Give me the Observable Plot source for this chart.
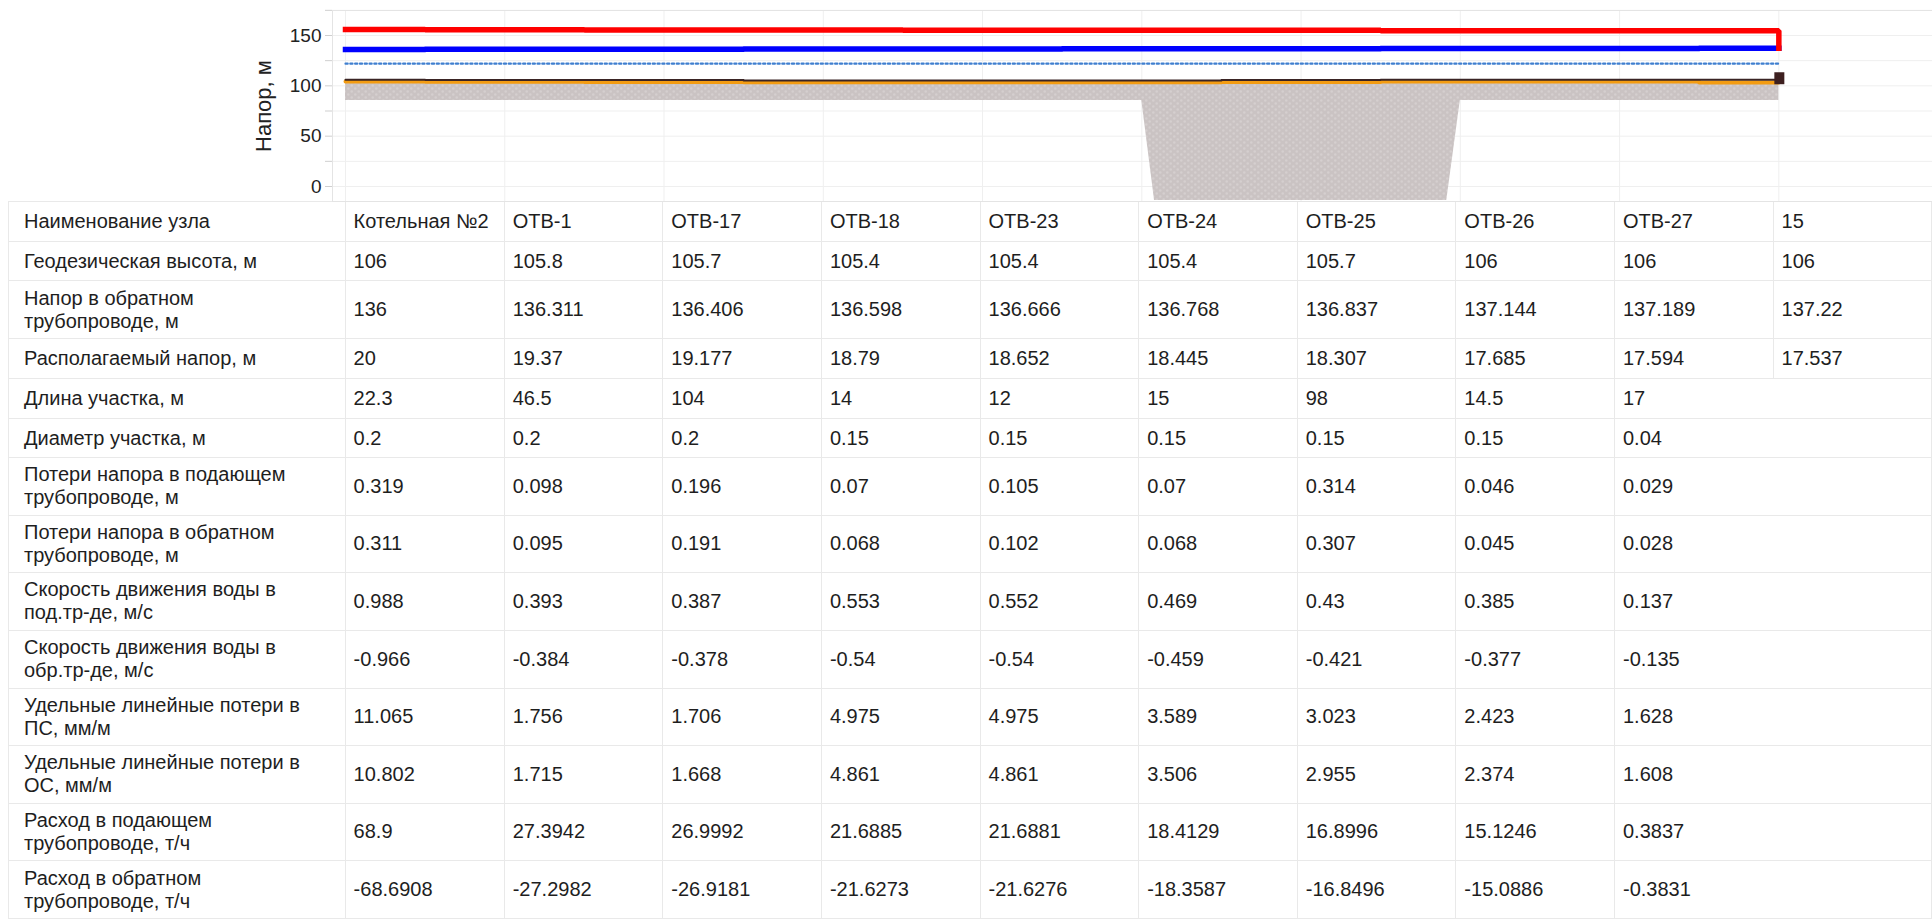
<!DOCTYPE html>
<html>
<head>
<meta charset="utf-8">
<script src="https://cdn.jsdelivr.net/npm/d3@7"></script>
<script src="https://cdn.jsdelivr.net/npm/@observablehq/plot@0.6"></script>
<style>
  html, body { margin: 0; padding: 0; background: #fff; overflow: hidden; }
  body { width: 1932px; height: 919px; font-family: Arial, "Liberation Sans", sans-serif; color: #1e1e1e; }
  #chart svg { display: block; }
  table { border-collapse: collapse; table-layout: fixed; margin-left: 8px; font-size: 20px; }
  td { border: 1px solid #e9e9e9; padding: 0 0 0 8px; vertical-align: middle; white-space: nowrap; overflow: hidden; line-height: 23px; }
  td.lab { padding-left: 15px; }
  td.nb { border-left: hidden; }
</style>
</head>
<body>
<div id="chart"></div>
<div id="table"></div>
<script>
// ---- data ----
const nodes = ["Котельная №2", "ОТВ-1", "ОТВ-17", "ОТВ-18", "ОТВ-23", "ОТВ-24", "ОТВ-25", "ОТВ-26", "ОТВ-27", "15"];
const geodesic = [106, 105.8, 105.7, 105.4, 105.4, 105.4, 105.7, 106, 106, 106];
const returnHead = [136, 136.311, 136.406, 136.598, 136.666, 136.768, 136.837, 137.144, 137.189, 137.22];
const availableHead = [20, 19.37, 19.177, 18.79, 18.652, 18.445, 18.307, 17.685, 17.594, 17.537];
const sectionLength = [22.3, 46.5, 104, 14, 12, 15, 98, 14.5, 17];
const sectionDiameter = [0.2, 0.2, 0.2, 0.15, 0.15, 0.15, 0.15, 0.15, 0.04];
const lossSupply = [0.319, 0.098, 0.196, 0.07, 0.105, 0.07, 0.314, 0.046, 0.029];
const lossReturn = [0.311, 0.095, 0.191, 0.068, 0.102, 0.068, 0.307, 0.045, 0.028];
const velocitySupply = [0.988, 0.393, 0.387, 0.553, 0.552, 0.469, 0.43, 0.385, 0.137];
const velocityReturn = [-0.966, -0.384, -0.378, -0.54, -0.54, -0.459, -0.421, -0.377, -0.135];
const specificLossSupply = [11.065, 1.756, 1.706, 4.975, 4.975, 3.589, 3.023, 2.423, 1.628];
const specificLossReturn = [10.802, 1.715, 1.668, 4.861, 4.861, 3.506, 2.955, 2.374, 1.608];
const flowSupply = [68.9, 27.3942, 26.9992, 21.6885, 21.6881, 18.4129, 16.8996, 15.1246, 0.3837];
const flowReturn = [-68.6908, -27.2982, -26.9181, -21.6273, -21.6276, -18.3587, -16.8496, -15.0886, -0.3831];
const staticHead = [122, 122, 122, 122, 122, 122, 122, 122, 122, 122];
const pipeLevel = [104.2, 104, 103.9, 103.6, 103.6, 103.6, 103.9, 104.2, 104.2, 103.4];
const groundBottom = [85.4, 85.4, 85.4, 85.4, 85.4, 85.4, 85.4, 85.4, 85.4, 85.4];
const ravinePos = [5, 5.08, 6.915, 7];
const ravineBottom = [85.4, -13.9, -13.9, 85.4];
const ravineTop = [90, 90, 90, 90];
const endMarker = {node: 9, bottom: 101.1, top: 113};
const yTicks = [0, 25, 50, 75, 100, 125, 150, 175];
const yLabel = "Напор, м";

// ---- derived ----
const idx = nodes.map((_, i) => i);
const supplyHead = idx.map(i => returnHead[i] + availableHead[i]);
const supplyPath = idx.map(i => ({x: i, y: supplyHead[i]})).concat([{x: 9, y: returnHead[9]}]);
const ravine = ravinePos.map((p, i) => ({x: p, y1: ravineBottom[i], y2: ravineTop[i]}));

const colW = 159.26;
const x0 = 345;

const plot = Plot.plot({
  width: 1932,
  height: 201,
  marginLeft: 332,
  marginRight: 0,
  marginTop: 10,
  marginBottom: 0,
  style: {fontFamily: "Arial, 'Liberation Sans', sans-serif", fontSize: "19px", color: "#222", background: "#fff", overflow: "visible"},
  x: {domain: [0, 9], range: [x0, x0 + 9 * colW], axis: null},
  y: {domain: [0, 150], range: [186, 35], axis: null},
  marks: [
    Plot.gridX(idx, {stroke: "#efefef", strokeOpacity: 1}),
    Plot.gridY(yTicks, {stroke: "#efefef", strokeOpacity: 1}),
    Plot.frame({stroke: "#e4e4e4"}),
    Plot.axisY(yTicks, {tickSize: 7, tickPadding: 4, stroke: "#cfcfcf", fill: "#222", fontSize: 19, label: null,
      tickFormat: d => d % 50 === 0 && d <= 150 ? String(d) : ""}),
    Plot.text([yLabel], {frameAnchor: "left", textAnchor: "middle", rotate: -90, dx: -69, fontSize: 22, fill: "#222"}),
    // ground
    Plot.areaY(idx, {x: i => i, y1: i => groundBottom[i], y2: i => pipeLevel[i], curve: "step", fill: "url(#groundTex)"}),
    Plot.areaY(ravine, {x: "x", y1: "y1", y2: "y2", fill: "url(#groundTex)"}),
    // pipe & ground level
    Plot.line(idx, {x: i => i, y: i => pipeLevel[i], curve: "step", stroke: "#f39c12", strokeWidth: 4}),
    Plot.line(idx, {x: i => i, y: i => geodesic[i], curve: "step", stroke: "#3a2424", strokeWidth: 2}),
    Plot.ruleX([endMarker], {x: "node", y1: "bottom", y2: "top", stroke: "#3d1f1f", strokeWidth: 10, dx: 0.5}),
    // static head
    Plot.line(idx, {x: i => i, y: i => staticHead[i], stroke: "#3f7fcf", strokeWidth: 2.2, strokeDasharray: "2.2,2.6"}),
    // return & supply head
    Plot.line(idx, {x: i => i, y: i => returnHead[i], curve: "step", stroke: "#0000ff", strokeWidth: 5.5, strokeLinecap: "square"}),
    Plot.line(supplyPath, {x: "x", y: "y", curve: "step", stroke: "#ff0000", strokeWidth: 5.5, strokeLinecap: "square", strokeLinejoin: "miter"})
  ]
});

// texture for the ground fill
const ns = "http://www.w3.org/2000/svg";
const defs = document.createElementNS(ns, "defs");
defs.innerHTML = `<pattern id="groundTex" patternUnits="userSpaceOnUse" width="7" height="6">
  <rect width="7" height="6" fill="#cac3c3"></rect>
  <circle cx="1.75" cy="1.5" r="1.3" fill="#d5cfcf"></circle>
  <circle cx="5.25" cy="4.5" r="1.3" fill="#d5cfcf"></circle>
</pattern>`;
plot.insertBefore(defs, plot.firstChild);
document.getElementById("chart").appendChild(plot);

// ---- table ----
const rows = [
  {label: ["Наименование узла"], values: nodes, h: 40},
  {label: ["Геодезическая высота, м"], values: geodesic, h: 39},
  {label: ["Напор в обратном", "трубопроводе, м"], values: returnHead, h: 58},
  {label: ["Располагаемый напор, м"], values: availableHead, h: 40},
  {label: ["Длина участка, м"], values: sectionLength, h: 40},
  {label: ["Диаметр участка, м"], values: sectionDiameter, h: 39},
  {label: ["Потери напора в подающем", "трубопроводе, м"], values: lossSupply, h: 57.5},
  {label: ["Потери напора в обратном", "трубопроводе, м"], values: lossReturn, h: 57.5},
  {label: ["Скорость движения воды в", "под.тр-де, м/с"], values: velocitySupply, h: 57.5},
  {label: ["Скорость движения воды в", "обр.тр-де, м/с"], values: velocityReturn, h: 58},
  {label: ["Удельные линейные потери в", "ПС, мм/м"], values: specificLossSupply, h: 57.5},
  {label: ["Удельные линейные потери в", "ОС, мм/м"], values: specificLossReturn, h: 57.5},
  {label: ["Расход в подающем", "трубопроводе, т/ч"], values: flowSupply, h: 57.5},
  {label: ["Расход в обратном", "трубопроводе, т/ч"], values: flowReturn, h: 58}
];

let html = `<table><colgroup><col style="width:337px">`;
for (let i = 0; i < nodes.length; i++) html += `<col style="width:${colW}px">`;
html += `</colgroup>`;
for (const r of rows) {
  html += `<tr style="height:${r.h}px"><td class="lab">${r.label.join("<br>")}</td>`;
  for (let i = 0; i < nodes.length; i++) {
    const v = r.values[i];
    const cls = (v === undefined && i === r.values.length) ? ' class="nb"' : '';
    html += `<td${cls}>${v === undefined ? "" : String(v)}</td>`;
  }
  html += `</tr>`;
}
html += `</table>`;
document.getElementById("table").innerHTML = html;
</script>
</body>
</html>
